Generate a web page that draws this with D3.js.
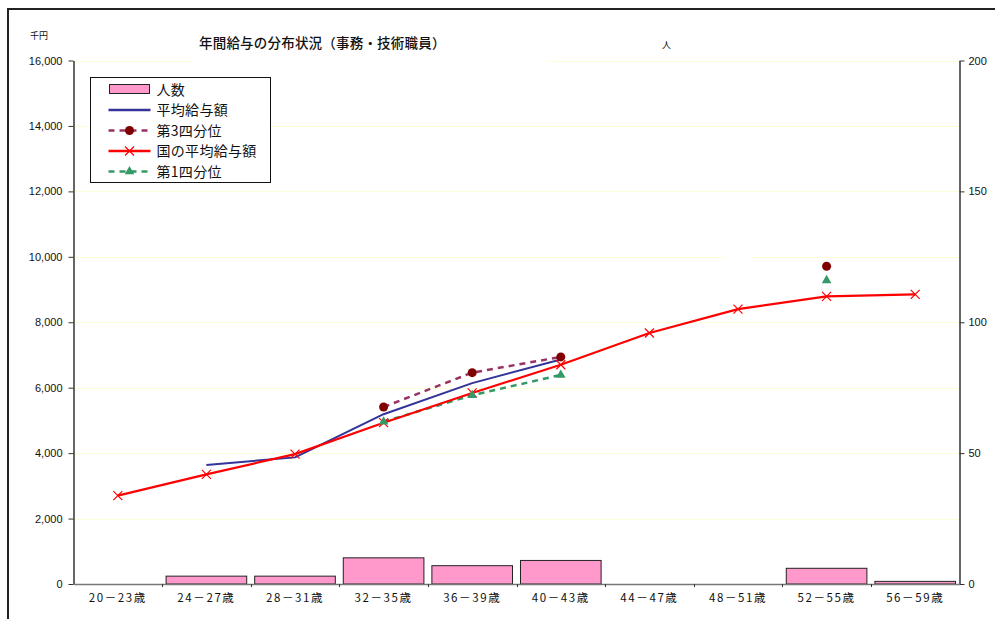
<!DOCTYPE html>
<html>
<head>
<meta charset="utf-8">
<script src="https://cdn.jsdelivr.net/npm/d3@7"></script>
<style>
  html, body { margin: 0; padding: 0; background: #fff; }
  svg { display: block; }
  .jp { font-family: "Noto Sans CJK JP", "Noto Sans", sans-serif; }
  .num { font-family: "Liberation Sans", Arial, sans-serif; }
</style>
</head>
<body>
<svg id="chart" width="995" height="619"></svg>
<script>
// Age groups
const categories = ["20－23歳", "24－27歳", "28－31歳", "32－35歳", "36－39歳",
                    "40－43歳", "44－47歳", "48－51歳", "52－55歳", "56－59歳"];
// Headcount (right axis, persons)
const headcount = [0, 3, 3, 10, 7, 9, 0, 0, 6, 1];
// Average annual salary (thousand yen)
const avgSalary = [null, 3640, 3870, 5190, 6140, 6860, null, null, null, null];
// Third quartile
const q3 = [null, null, null, 5410, 6460, 6940, null, null, 9710, null];
// National average salary
const nationalAvg = [2700, 3350, 3970, 4930, 5840, 6700, 7670, 8400, 8790, 8850];
// First quartile
const q1 = [null, null, null, 4960, 5770, 6390, null, null, 9280, null];

const leftTicks = [0, 2000, 4000, 6000, 8000, 10000, 12000, 14000, 16000];
const rightTicks = [0, 50, 100, 150, 200];

const svg = d3.select("#chart");

const plot = { left: 73.5, right: 959.5, top: 60.5, bottom: 584 };

const x = d3.scaleBand().domain(categories).range([plot.left, plot.right]).padding(0);
const yL = d3.scaleLinear().domain([0, 16000]).range([plot.bottom, plot.top]);
const yR = d3.scaleLinear().domain([0, 200]).range([plot.bottom, plot.top]);
const cx = c => x(c) + x.bandwidth() / 2;

// outer frame
svg.append("rect")
  .attr("x", 8).attr("y", 9).attr("width", 1000).attr("height", 620)
  .attr("fill", "none").attr("stroke", "#222").attr("stroke-width", 2);

// horizontal gridlines
svg.append("g").selectAll("line").data(leftTicks.filter(d => d > 0)).join("line")
  .attr("x1", plot.left).attr("x2", plot.right)
  .attr("y1", d => Math.round(yL(d)) + 0.5).attr("y2", d => Math.round(yL(d)) + 0.5)
  .attr("stroke", "#ffffd6").attr("stroke-width", 1);

// white patch over the 10,000 gridline
svg.append("rect").attr("x", 724).attr("y", 252).attr("width", 28).attr("height", 8).attr("fill", "#fff");

// bars: headcount on the right axis
const bw = x.bandwidth();
svg.append("g").selectAll("rect").data(categories.map((c, i) => ({ c, v: headcount[i] })).filter(d => d.v > 0))
  .join("rect")
  .attr("x", d => x(d.c) + bw * 0.045)
  .attr("width", bw * 0.91)
  .attr("y", d => yR(d.v))
  .attr("height", d => yR(0) - yR(d.v))
  .attr("fill", "#ff99cc").attr("stroke", "#222").attr("stroke-width", 1);

// axes
const axisColor = "#333";
const gL = svg.append("g").attr("transform", `translate(${plot.left},0)`)
  .call(d3.axisLeft(yL).tickValues(leftTicks).tickFormat(d3.format(",")).tickSize(5).tickSizeOuter(0));
const gR = svg.append("g").attr("transform", `translate(${plot.right},0)`)
  .call(d3.axisRight(yR).tickValues(rightTicks).tickSize(5).tickSizeOuter(0));
const gX = svg.append("g").attr("transform", `translate(0,${plot.bottom})`)
  .call(d3.axisBottom(x).tickSize(0).tickSizeOuter(0));

[gL, gR].forEach(g => {
  g.select(".domain").attr("stroke", axisColor).attr("stroke-width", 1.5);
  g.selectAll(".tick line").attr("stroke", axisColor);
  g.selectAll(".tick text").attr("class", "num").attr("font-size", 11).attr("fill", "#111");
});
gL.selectAll(".tick text").attr("x", -11);
gR.selectAll(".tick text").attr("x", 9);
gX.select(".domain").attr("stroke", "#777").attr("stroke-width", 1.5);
gX.selectAll(".tick text").attr("class", "jp").attr("font-size", 11.5).attr("letter-spacing", 1.6)
  .attr("fill", "#111").attr("dy", "1.05em").attr("y", 6);

// small ticks at category boundaries
svg.append("g").selectAll("line").data(categories.slice(1)).join("line")
  .attr("x1", d => Math.round(x(d)) + 0.5).attr("x2", d => Math.round(x(d)) + 0.5)
  .attr("y1", plot.bottom).attr("y2", plot.bottom + 3)
  .attr("stroke", axisColor);

// line series
const pts = arr => categories.map((c, i) => ({ c, v: arr[i] }));
const line = d3.line().defined(d => d.v != null).x(d => cx(d.c)).y(d => yL(d.v));

function drawLine(arr, color, width, dash) {
  svg.append("path").datum(pts(arr))
    .attr("fill", "none").attr("stroke", color).attr("stroke-width", width)
    .attr("stroke-dasharray", dash || null)
    .attr("stroke-linejoin", "round")
    .attr("d", line);
}

drawLine(q1, "#339966", 2.5, "6,5");
drawLine(q3, "#993366", 2.5, "6,5");
drawLine(avgSalary, "#333399", 2, null);
drawLine(nationalAvg, "#ff0000", 2.2, null);

// markers
const crossPath = s => `M${-s},${-s}L${s},${s}M${-s},${s}L${s},${-s}`;
svg.append("g").selectAll("path").data(pts(nationalAvg).filter(d => d.v != null)).join("path")
  .attr("transform", d => `translate(${cx(d.c)},${yL(d.v)})`)
  .attr("d", crossPath(4.5)).attr("stroke", "#ff0000").attr("stroke-width", 1.2).attr("fill", "none");

svg.append("g").selectAll("path").data(pts(q1).filter(d => d.v != null)).join("path")
  .attr("transform", d => `translate(${cx(d.c)},${yL(d.v)})`)
  .attr("d", d3.symbol(d3.symbolTriangle, 40)).attr("fill", "#339966");

svg.append("g").selectAll("circle").data(pts(q3).filter(d => d.v != null)).join("circle")
  .attr("cx", d => cx(d.c)).attr("cy", d => yL(d.v)).attr("r", 4.5).attr("fill", "#800000");

// title with white backing
svg.append("rect").attr("x", 192).attr("y", 28).attr("width", 356).attr("height", 36).attr("fill", "#fff");
svg.append("text").attr("class", "jp").attr("x", 199).attr("y", 48)
  .attr("font-size", 13.5).attr("font-weight", 500).attr("letter-spacing", 0.2)
  .attr("fill", "#111").text("年間給与の分布状況（事務・技術職員）");

// unit labels
svg.append("text").attr("class", "jp").attr("x", 30).attr("y", 39).attr("font-size", 9).attr("fill", "#111").text("千円");
svg.append("text").attr("class", "jp").attr("x", 662).attr("y", 48).attr("font-size", 9).attr("fill", "#111").text("人");

// legend
const legendItems = [
  { label: "人数", type: "bar" },
  { label: "平均給与額", type: "line", color: "#333399" },
  { label: "第3四分位", type: "dash", color: "#993366", marker: "circle" },
  { label: "国の平均給与額", type: "line", color: "#ff0000", marker: "cross" },
  { label: "第1四分位", type: "dash", color: "#339966", marker: "triangle" }
];
const lg = svg.append("g").attr("transform", "translate(90.5,77.5)");
lg.append("rect").attr("width", 180).attr("height", 105).attr("fill", "#fff").attr("stroke", "#111").attr("stroke-width", 1);
legendItems.forEach((it, i) => {
  const yy = 12 + i * 20.5;
  const g = lg.append("g").attr("transform", `translate(0,${yy})`);
  if (it.type === "bar") {
    g.append("rect").attr("x", 19).attr("y", -5).attr("width", 40).attr("height", 9)
      .attr("fill", "#ff99cc").attr("stroke", "#222");
  } else {
    g.append("line").attr("x1", 18).attr("x2", 60).attr("y1", 0).attr("y2", 0)
      .attr("stroke", it.color).attr("stroke-width", 2.5)
      .attr("stroke-dasharray", it.type === "dash" ? "6,5" : null);
  }
  if (it.marker === "circle") g.append("circle").attr("cx", 39).attr("cy", 0).attr("r", 4.5).attr("fill", "#800000");
  if (it.marker === "cross") g.append("path").attr("transform", "translate(39,0)").attr("d", crossPath(4.5))
    .attr("stroke", "#ff0000").attr("stroke-width", 1.2);
  if (it.marker === "triangle") g.append("path").attr("transform", "translate(39,0)")
    .attr("d", d3.symbol(d3.symbolTriangle, 40)).attr("fill", "#339966");
  g.append("text").attr("class", "jp").attr("x", 66).attr("y", 5).attr("font-size", 14)
    .attr("letter-spacing", 0.3).attr("fill", "#111").text(it.label);
});
</script>
</body>
</html>
